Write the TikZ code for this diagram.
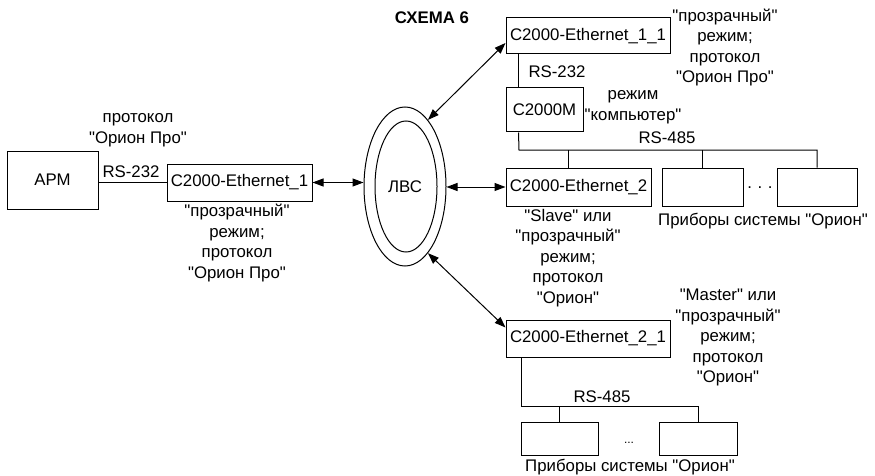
\documentclass[tikz,border=0pt]{standalone}
\usepackage{fontspec}
\setmainfont{Liberation Sans}[Ligatures=TeXOff]
\usetikzlibrary{arrows.meta,shapes.geometric,calc}
\begin{document}
\begin{tikzpicture}[x=1pt,y=-1pt,
  every node/.style={font=\fontsize{16.8}{20.5}\selectfont, inner sep=0pt},
  box/.style={draw, line width=1pt, rectangle},
  conn/.style={line width=1pt},
  biarrow/.style={line width=1pt, {Triangle[length=11pt,width=8pt]}-{Triangle[length=11pt,width=8pt]}},
  lbl/.style={align=center}]
\useasboundingbox (0,0) rectangle (875,476);

% boxes
\node[box, minimum width=91pt, minimum height=58pt] (apm) at (52.5,180) {АРМ};
\node[box, minimum width=145pt, minimum height=37pt] (eth1) at (239.5,182.5) {С2000-Ethernet\_1};
\node[box, minimum width=164pt, minimum height=36pt] (eth11) at (588,36) {С2000-Ethernet\_1\_1};
\node[box, minimum width=77pt, minimum height=44pt] (c2m) at (544.5,110) {С2000М};
\node[box, minimum width=145pt, minimum height=38pt] (eth2) at (578.5,187) {С2000-Ethernet\_2};
\node[box, minimum width=81pt, minimum height=38pt] (dev1) at (702.5,187) {};
\node[box, minimum width=80pt, minimum height=38pt] (dev2) at (817,187) {};
\node[box, minimum width=164pt, minimum height=37pt] (eth21) at (588,338.5) {С2000-Ethernet\_2\_1};
\node[box, minimum width=77pt, minimum height=33pt] (deva) at (559.5,438.5) {};
\node[box, minimum width=78pt, minimum height=33pt] (devb) at (698,438.5) {};

% LAN ellipses
\node[draw, line width=1pt, ellipse, minimum width=82pt, minimum height=159pt] (lanout) at (405,186.5) {};
\node[draw, line width=1pt, ellipse, minimum width=62pt, minimum height=131pt] (lanin) at (406,186.5) {};
\node (lan) at (405,187) {ЛВС};

% connectors
\draw[conn] (apm.east |- eth1.west) -- (eth1.west);
\draw[biarrow] (eth1.east) -- (eth1.east -| lanout.west);
\draw[biarrow] (lanout.east |- eth2.west) -- (eth2.west);
\draw[biarrow] (lanout.71) -- ([yshift=-7pt]eth11.west);
\draw[biarrow] (lanout.-71) -- ([yshift=11pt]eth21.west);

\draw[conn] ([xshift=13pt]c2m.north west) -- ([xshift=13pt]c2m.north west |- eth11.south);

\coordinate (busA) at (519,150);
\draw[conn] ([xshift=13pt]c2m.south west) -- (busA) -- (busA -| dev2.north) -- (dev2.north);
\coordinate (d0) at (568,150);
\draw[conn] (d0) -- (d0 |- eth2.north);
\draw[conn] (dev1.north) -- (dev1.north |- busA);

\coordinate (busB) at (521,406);
\draw[conn] (busB |- eth21.south) -- (busB) -- (busB -| devb.north) -- (devb.north);
\draw[conn] (deva.north) -- (deva.north |- busB);

% labels
\node[font=\fontsize{16.8}{20.5}\selectfont\bfseries] (title) at (432,18) {СХЕМА 6};
\node[lbl] (t1) at (138,130) {протокол\\"Орион Про"};
\node (rs1) at (131,172) {RS-232};
\node[lbl] (t2) at (237,243) {"прозрачный"\\режим;\\протокол\\"Орион Про"};
\node[lbl] (t3) at (725,47.5) {"прозрачный"\\режим;\\протокол\\"Орион Про"};
\node (rs2) at (557,72) {RS-232};
\node[lbl] (t4) at (633,107) {режим\\"компьютер"};
\node (rs3) at (667,138) {RS-485};
\node (dots1) at (760,188) {.\,\,.\,\,.};
\node (cap1) at (763,221) {Приборы системы "Орион"};
\node[lbl] (t5) at (568,258) {"Slave" или\\"прозрачный"\\режим;\\протокол\\"Орион"};
\node[lbl] (t6) at (728,337.5) {"Master" или\\"прозрачный"\\режим;\\протокол\\"Орион"};
\node (rs4) at (602,397) {RS-485};
\node[font=\fontsize{12}{14}\selectfont] (dots2) at (629,443) {...};
\node (cap2) at (630,467) {Приборы системы "Орион"};
\end{tikzpicture}
\end{document}
